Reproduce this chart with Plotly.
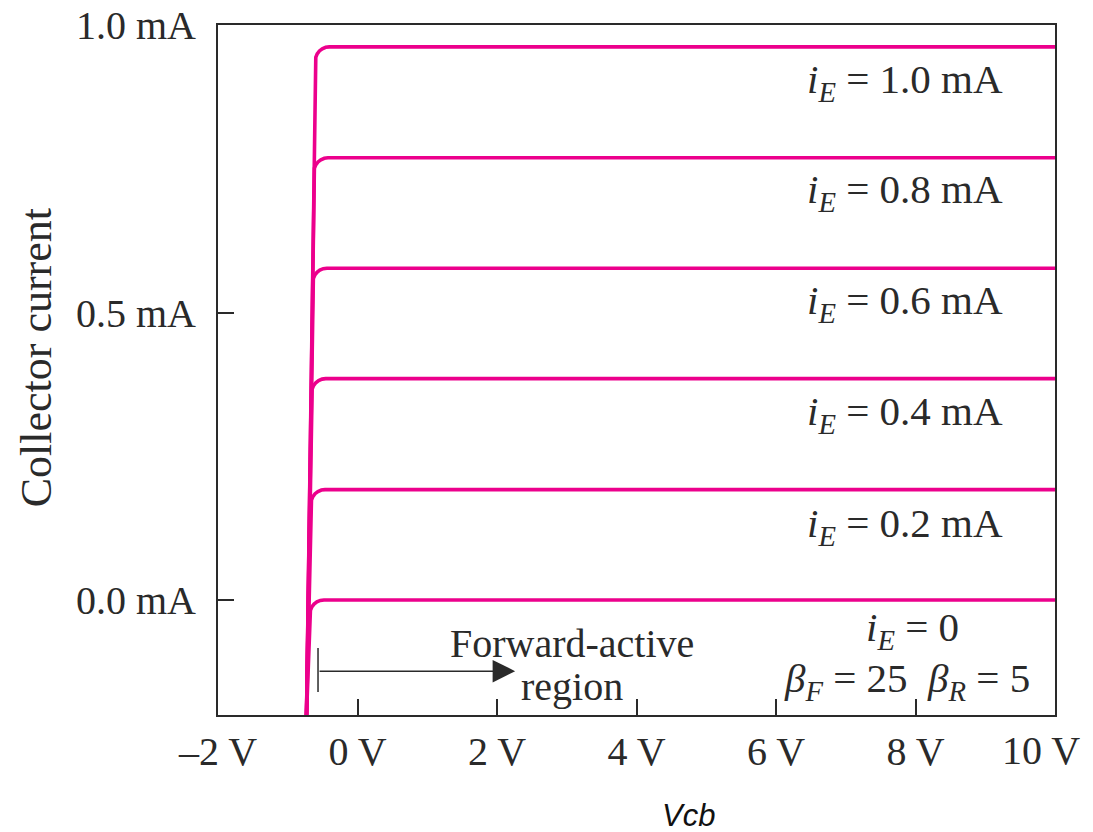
import plotly.graph_objects as go

# ---- data ----
emitter_currents = ["1.0", "0.8", "0.6", "0.4", "0.2"]          # mA labels
levels_mA = [0.962, 0.769, 0.577, 0.385, 0.192, 0.0]             # flat collector current per curve
knee_v = [-0.605, -0.625, -0.64, -0.657, -0.667, -0.682]          # V where each curve leaves the steep line
bottom_v = -0.731                                                 # V where the steep line meets -0.2 mA
bottom_i = -0.2
end_v = 10.0
# shape of the rounded knee (offsets)
knee_dv = [0.0, 0.007, 0.027, 0.059, 0.100, 0.149, 0.201]
knee_di = [0.0244, 0.0181, 0.0122, 0.0071, 0.0033, 0.0008, 0.0]

x_tickvals = [-2, 0, 2, 4, 6, 8, 10]
x_ticktext = ["\u20132 V", "0 V", "2 V", "4 V", "6 V", "8 V", "10 V"]
y_tickvals = [0.0, 0.5, 1.0]
y_ticktext = ["0.0 mA", "0.5 mA", "1.0 mA"]

label_y = [0.901, 0.709, 0.516, 0.324, 0.129]

MAGENTA = "#EC008C"
DARK = "#2a2a2a"
FONT = "Liberation Serif"
ANN = 41
TICK = 40

fig = go.Figure()
for lvl, kv in zip(levels_mA, knee_v):
    xs = [bottom_v] + [kv + d for d in knee_dv] + [end_v]
    ys = [bottom_i] + [lvl - d for d in knee_di] + [lvl]
    fig.add_trace(go.Scatter(x=xs, y=ys, mode="lines",
                             line=dict(color=MAGENTA, width=3.6),
                             hoverinfo="skip"))

annotations = []
for txt, yy in zip(emitter_currents, label_y):
    annotations.append(dict(x=7.85, y=yy, xref="x", yref="y",
                            text=f"<i>i</i><sub><i>E</i></sub> = {txt} mA",
                            showarrow=False, xanchor="center", yanchor="middle",
                            font=dict(family=FONT, size=ANN, color=DARK)))
annotations.append(dict(x=7.95, y=-0.053, xref="x", yref="y",
                        text="<i>i</i><sub><i>E</i></sub> = 0",
                        showarrow=False, xanchor="center", yanchor="middle",
                        font=dict(family=FONT, size=ANN, color=DARK)))
annotations.append(dict(x=7.88, y=-0.14, xref="x", yref="y",
                        text="<i>\u03b2</i><sub><i>F</i></sub> = 25\u00a0\u00a0<i>\u03b2</i><sub><i>R</i></sub> = 5",
                        showarrow=False, xanchor="center", yanchor="middle",
                        font=dict(family=FONT, size=ANN, color=DARK)))
annotations.append(dict(x=3.07, y=-0.075, xref="x", yref="y",
                        text="Forward-active",
                        showarrow=False, xanchor="center", yanchor="middle",
                        font=dict(family=FONT, size=40, color=DARK)))
annotations.append(dict(x=3.07, y=-0.15, xref="x", yref="y",
                        text="region",
                        showarrow=False, xanchor="center", yanchor="middle",
                        font=dict(family=FONT, size=40, color=DARK)))
# arrow of the forward-active region
annotations.append(dict(x=2.26, y=-0.1237, ax=-0.566, ay=-0.1237,
                        xref="x", yref="y", axref="x", ayref="y",
                        text="", showarrow=True, arrowhead=2, arrowsize=3,
                        arrowwidth=1.5, arrowcolor=DARK))
# last x tick label sits a little left of its tick, inside the page
annotations.append(dict(x=x_tickvals[-1], y=0, xref="x", yref="paper",
                        text=x_ticktext[-1], showarrow=False,
                        xanchor="right", yanchor="middle", xshift=27, yshift=-35,
                        font=dict(family=FONT, size=TICK, color=DARK)))
# axis titles
annotations.append(dict(x=-0.2174, y=0.517, xref="paper", yref="paper",
                        text="Collector current", textangle=-90,
                        showarrow=False, xanchor="center", yanchor="middle",
                        font=dict(family=FONT, size=44, color=DARK)))
annotations.append(dict(x=0.5627, y=-0.146, xref="paper", yref="paper",
                        text="<i>Vcb</i>",
                        showarrow=False, xanchor="center", yanchor="middle",
                        font=dict(family="Liberation Sans", size=31, color="#111")))

shapes = [dict(type="line", xref="x", yref="y", x0=-0.566, x1=-0.566,
               y0=-0.0836, y1=-0.160, line=dict(color=DARK, width=1.5))]

fig.update_layout(
    width=1085, height=824,
    margin=dict(l=210, r=38, t=17, b=117, autoexpand=False),
    plot_bgcolor="white", paper_bgcolor="white",
    showlegend=False,
    annotations=annotations, shapes=shapes,
    font=dict(family=FONT, size=TICK, color=DARK),
    xaxis=dict(range=[-2, 10], tickvals=x_tickvals,
               ticktext=x_ticktext[:-1] + [""],
               ticks="inside", ticklen=16, tickwidth=1.5, tickcolor=DARK,
               showline=True, mirror=True, linecolor=DARK, linewidth=2,
               showgrid=False, zeroline=False, ticklabelstandoff=0,
               automargin=False, ticklabeloverflow="allow",
               tickfont=dict(family=FONT, size=TICK, color=DARK)),
    yaxis=dict(range=[-0.2, 1.0], tickvals=y_tickvals, ticktext=y_ticktext,
               ticks="inside", ticklen=16, tickwidth=1.5, tickcolor=DARK,
               showline=True, mirror=True, linecolor=DARK, linewidth=2,
               showgrid=False, zeroline=False, ticklabelstandoff=12,
               automargin=False, ticklabeloverflow="allow",
               tickfont=dict(family=FONT, size=TICK, color=DARK)),
)

fig.write_html("out.html")
